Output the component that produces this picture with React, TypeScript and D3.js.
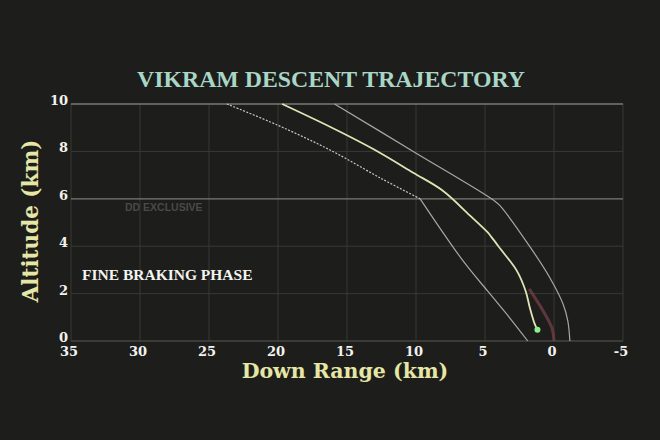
import * as d3 from "d3";
import { useEffect, useRef } from "react";

// down range (km), altitude (km)
const trajectory: [number, number][] = [
  [19.7, 10], [16.2, 9.03], [13.1, 8.1], [10.2, 7.1], [8.1, 6.36], [6.1, 5.3],
  [4.8, 4.58], [4.5, 4.36], [3.9, 3.9], [2.7, 2.97], [2.05, 2.1], [1.75, 1.4],
  [1.4, 0.72], [1.2, 0.47],
];
const leftUpper: [number, number][] = [
  [23.7, 10], [20, 9.1], [16.2, 8.05], [12.5, 6.85], [9.7, 6.0],
];
const leftLower: [number, number][] = [
  [9.7, 6.0], [6.6, 3.39], [4.8, 2.1], [3.2, 0.97], [1.9, 0],
];
const rightBound: [number, number][] = [
  [15.9, 10], [10.2, 8.0], [4.4, 5.95], [3.9, 5.7], [1.7, 3.94], [0.3, 2.67],
  [-0.65, 1.57], [-1.0, 0.85], [-1.15, 0],
];
const actual: [number, number][] = [
  [1.8, 2.2], [0.87, 1.35], [0.15, 0.55], [0.0, 0],
];
const xTicks = [35, 30, 25, 20, 15, 10, 5, 0, -5];
const yTicks = [0, 2, 4, 6, 8, 10];
const majorY = [6, 10];

const serif = "'Liberation Serif', 'Times New Roman', serif";
const wideSerif = "'DejaVu Serif', serif";

const App = () => {
  const ref: any = useRef();

  useEffect(() => {
    document.body.style.margin = "0";
    const svg = d3.select(ref.current);
    svg.selectAll("*").remove();

    const width = 660, height = 440;
    svg.append("rect").attr("width", width).attr("height", height).attr("fill", "#1d1d1b");

    const x = d3.scaleLinear().domain([35, -5]).range([71, 623]);
    const y = d3.scaleLinear().domain([0, 10]).range([341, 104]);

    // grid
    svg.append("g").selectAll("line").data(xTicks).join("line")
      .attr("x1", (d) => x(d)).attr("x2", (d) => x(d))
      .attr("y1", y(10)).attr("y2", y(0))
      .attr("stroke", "#383835").attr("stroke-width", 1);
    svg.append("g").selectAll("line").data(yTicks).join("line")
      .attr("x1", x(35)).attr("x2", x(-5))
      .attr("y1", (d) => y(d)).attr("y2", (d) => y(d))
      .attr("stroke", (d) => (majorY.includes(d) ? "#7a7a74" : d === 0 ? "#5a5a55" : "#383835"))
      .attr("stroke-width", (d) => (majorY.includes(d) ? 1.3 : 1));

    // tick labels
    svg.append("g").selectAll("text").data(yTicks).join("text")
      .attr("x", 68).attr("y", (d) => y(d) + 1)
      .attr("text-anchor", "end")
      .attr("font-family", wideSerif).attr("font-weight", "bold").attr("font-size", 13)
      .attr("fill", "#f2f2ee").text((d) => d);
    svg.append("g").selectAll("text").data(xTicks).join("text")
      .attr("x", (d) => x(d) - 2).attr("y", 356)
      .attr("text-anchor", "middle")
      .attr("font-family", wideSerif).attr("font-weight", "bold").attr("font-size", 13)
      .attr("fill", "#f2f2ee").text((d) => d);

    // titles
    svg.append("text").attr("x", 331).attr("y", 87).attr("text-anchor", "middle")
      .attr("font-family", serif).attr("font-weight", "bold").attr("font-size", 23.8)
      .attr("fill", "#a9d6c6").text("VIKRAM DESCENT TRAJECTORY");
    svg.append("text").attr("x", 345).attr("y", 378).attr("text-anchor", "middle")
      .attr("font-family", wideSerif).attr("font-weight", "bold").attr("font-size", 20.5)
      .attr("fill", "#e6e6a6").text("Down Range (km)");
    svg.append("text").attr("transform", "translate(38,221) rotate(-90)")
      .attr("text-anchor", "middle")
      .attr("font-family", wideSerif).attr("font-weight", "bold").attr("font-size", 21.5)
      .attr("fill", "#e6e6a6").text("Altitude (km)");

    svg.append("text").attr("x", 82).attr("y", 280)
      .attr("font-family", serif).attr("font-weight", "bold").attr("font-size", 15.5)
      .attr("fill", "#f4f4f0").text("FINE BRAKING PHASE");
    svg.append("text").attr("x", 125).attr("y", 211)
      .attr("font-family", "'Liberation Sans', Arial, sans-serif").attr("font-weight", "bold")
      .attr("font-size", 10.5).attr("fill", "#4a4a46").text("DD EXCLUSIVE");

    // lines
    const line = d3.line<[number, number]>()
      .x((d) => x(d[0])).y((d) => y(d[1]))
      .curve(d3.curveCatmullRom.alpha(0.5));

    svg.append("path").datum(actual).attr("d", line).attr("fill", "none")
      .attr("stroke", "#7c424a").attr("stroke-width", 3).attr("stroke-opacity", 0.7);
    svg.append("path").datum(leftUpper).attr("d", line).attr("fill", "none")
      .attr("stroke", "#c8c8c0").attr("stroke-width", 1.2).attr("stroke-dasharray", "2,1.5");
    svg.append("path").datum(leftLower).attr("d", line).attr("fill", "none")
      .attr("stroke", "#a8a8a0").attr("stroke-width", 1.2);
    svg.append("path").datum(rightBound).attr("d", line).attr("fill", "none")
      .attr("stroke", "#a8a8a0").attr("stroke-width", 1.2);
    svg.append("path").datum(trajectory).attr("d", line).attr("fill", "none")
      .attr("stroke", "#e0e4b4").attr("stroke-width", 1.8);

    const last = trajectory[trajectory.length - 1];
    svg.append("circle").attr("cx", x(last[0])).attr("cy", y(last[1])).attr("r", 3)
      .attr("fill", "#8ef08a");
  }, []);

  return <svg width={660} height={440} ref={ref} style={{ display: "block" }} />;
};

export default App;
